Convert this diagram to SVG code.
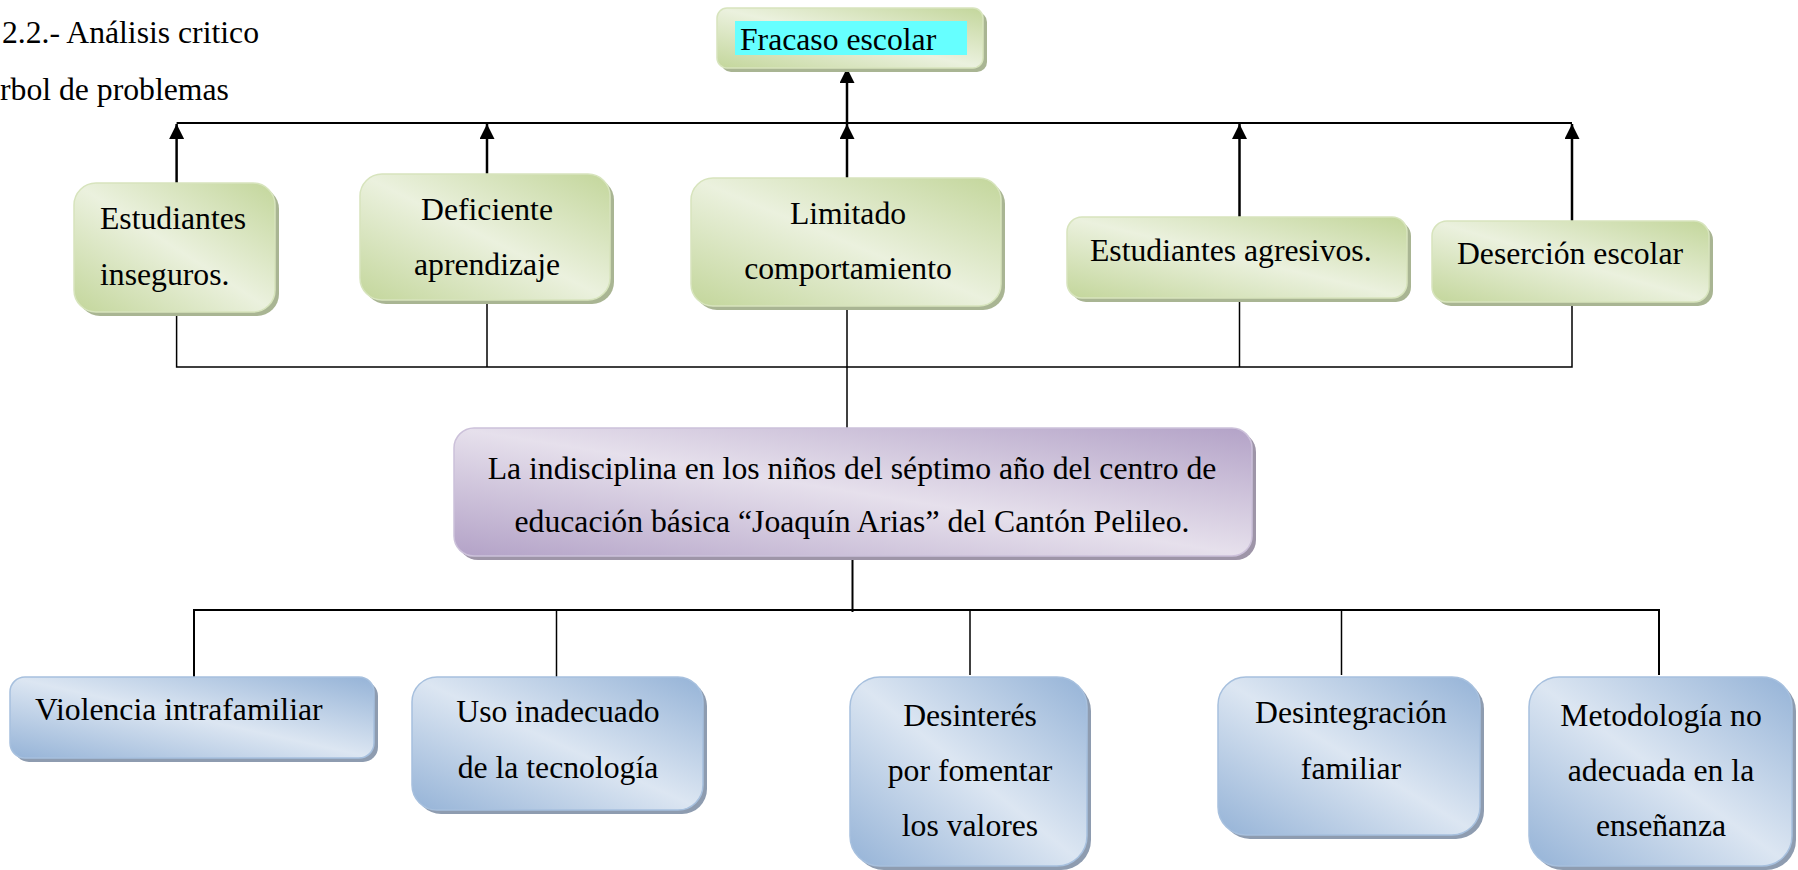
<svg xmlns="http://www.w3.org/2000/svg" width="1798" height="870" viewBox="0 0 1798 870">
<defs>
<linearGradient id="gGreen" x1="1" y1="0" x2="0" y2="1">
<stop offset="0" stop-color="#c3d69b"/><stop offset="0.5" stop-color="#ebf1de"/><stop offset="1" stop-color="#c3d69b"/>
</linearGradient>
<linearGradient id="gPurple" x1="1" y1="0" x2="0" y2="1">
<stop offset="0" stop-color="#b3a2c7"/><stop offset="0.5" stop-color="#e6e0ec"/><stop offset="1" stop-color="#b3a2c7"/>
</linearGradient>
<linearGradient id="gBlue" x1="1" y1="0" x2="0" y2="1">
<stop offset="0" stop-color="#95b3d7"/><stop offset="0.5" stop-color="#dce6f2"/><stop offset="1" stop-color="#95b3d7"/>
</linearGradient>
<marker id="arr" viewBox="0 0 10 10" refX="10" refY="5" markerWidth="6" markerHeight="6" markerUnits="strokeWidth" orient="auto">
<path d="M0,0 L10,5 L0,10 z" fill="#000"/>
</marker>
<style>
text{font-family:"Liberation Serif","Times New Roman",serif;font-size:31.7px;fill:#000}
.c{text-anchor:middle}
.green{fill:url(#gGreen);stroke:#d7e4bd;stroke-width:1.5}
.purple{fill:url(#gPurple);stroke:#ccc1da;stroke-width:1.5}
.blue{fill:url(#gBlue);stroke:#a7c0de;stroke-width:1.5}
.shG{fill:#a9b593}
.shP{fill:#9e95a8}
.shB{fill:#8e9cb0}
.arrow{stroke:#000;stroke-width:2.5;fill:none;marker-end:url(#arr)}
.ln{stroke:#000;stroke-width:2;fill:none}
.thin{stroke:#000;stroke-width:1.5;fill:none}
</style>
</defs>

<g id="title">
<text x="2" y="43">2.2.- Análisis critico</text>
<text x="0" y="100">rbol de problemas</text>
</g>

<g id="connectors">
<line class="ln" x1="176.6" y1="123" x2="1572" y2="123"/>
<line class="arrow" x1="847" y1="123" x2="847" y2="68"/>
<line class="arrow" x1="176.6" y1="183" x2="176.6" y2="124"/>
<line class="arrow" x1="487" y1="174" x2="487" y2="124"/>
<line class="arrow" x1="847" y1="178" x2="847" y2="124"/>
<line class="arrow" x1="1239.5" y1="217" x2="1239.5" y2="124"/>
<line class="arrow" x1="1572" y1="221" x2="1572" y2="124"/>
<polyline class="thin" points="176.6,316 176.6,367 1572,367 1572,306"/>
<line class="thin" x1="487" y1="304" x2="487" y2="367"/>
<line class="thin" x1="1239.5" y1="302" x2="1239.5" y2="367"/>
<line class="thin" x1="847" y1="310" x2="847" y2="430"/>
<line class="ln" x1="852.5" y1="557" x2="852.5" y2="612"/>
<polyline class="ln" points="194,677 194,610 1659,610 1659,675"/>
<line class="thin" x1="556.5" y1="610" x2="556.5" y2="677"/>
<line class="thin" x1="970" y1="610" x2="970" y2="675"/>
<line class="thin" x1="1341.5" y1="610" x2="1341.5" y2="675"/>
</g>

<g id="fracaso">
<rect class="shG" x="721" y="12" width="266" height="60" rx="10"/>
<rect class="green" x="717" y="8" width="266" height="60" rx="10"/>
<rect x="735" y="21" width="232" height="34" fill="#66ffff"/>
<text x="740" y="50">Fracaso escolar</text>
</g>

<g id="e1">
<rect class="shG" x="78" y="187" width="201" height="129" rx="22"/>
<rect class="green" x="74" y="183" width="201" height="129" rx="22"/>
<text x="100" y="229">Estudiantes</text>
<text x="100" y="285">inseguros.</text>
</g>

<g id="e2">
<rect class="shG" x="364" y="178" width="250" height="126" rx="22"/>
<rect class="green" x="360" y="174" width="250" height="126" rx="22"/>
<text class="c" x="487" y="220">Deficiente</text>
<text class="c" x="487" y="275">aprendizaje</text>
</g>

<g id="e3">
<rect class="shG" x="695" y="182" width="310" height="128" rx="22"/>
<rect class="green" x="691" y="178" width="310" height="128" rx="22"/>
<text class="c" x="848" y="224">Limitado</text>
<text class="c" x="848" y="279">comportamiento</text>
</g>

<g id="e4">
<rect class="shG" x="1071" y="221" width="340" height="81" rx="15"/>
<rect class="green" x="1067" y="217" width="340" height="81" rx="15"/>
<text x="1090" y="261">Estudiantes agresivos.</text>
</g>

<g id="e5">
<rect class="shG" x="1436" y="225" width="277" height="81" rx="15"/>
<rect class="green" x="1432" y="221" width="277" height="81" rx="15"/>
<text class="c" x="1570" y="264">Deserción escolar</text>
</g>

<g id="problema">
<rect class="shP" x="458" y="432" width="798" height="128" rx="20"/>
<rect class="purple" x="454" y="428" width="798" height="128" rx="20"/>
<text class="c" x="852" y="479">La indisciplina en los niños del séptimo año del centro de</text>
<text class="c" x="852" y="532">educación básica “Joaquín Arias” del Cantón Pelileo.</text>
</g>

<g id="c1">
<rect class="shB" x="14" y="681" width="364" height="81" rx="15"/>
<rect class="blue" x="10" y="677" width="364" height="81" rx="15"/>
<text x="35" y="720">Violencia intrafamiliar</text>
</g>

<g id="c2">
<rect class="shB" x="416" y="681" width="291" height="133" rx="25"/>
<rect class="blue" x="412" y="677" width="291" height="133" rx="25"/>
<text class="c" x="558" y="722">Uso inadecuado</text>
<text class="c" x="558" y="778">de la tecnología</text>
</g>

<g id="c3">
<rect class="shB" x="854" y="681" width="237" height="189" rx="30"/>
<rect class="blue" x="850" y="677" width="237" height="189" rx="30"/>
<text class="c" x="970" y="726">Desinterés</text>
<text class="c" x="970" y="781">por fomentar</text>
<text class="c" x="970" y="836">los valores</text>
</g>

<g id="c4">
<rect class="shB" x="1222" y="681" width="262" height="158" rx="28"/>
<rect class="blue" x="1218" y="677" width="262" height="158" rx="28"/>
<text class="c" x="1351" y="723">Desintegración</text>
<text class="c" x="1351" y="779">familiar</text>
</g>

<g id="c5">
<rect class="shB" x="1533" y="681" width="263" height="189" rx="30"/>
<rect class="blue" x="1529" y="677" width="263" height="189" rx="30"/>
<text class="c" x="1661" y="726">Metodología no</text>
<text class="c" x="1661" y="781">adecuada en la</text>
<text class="c" x="1661" y="836">enseñanza</text>
</g>
</svg>
